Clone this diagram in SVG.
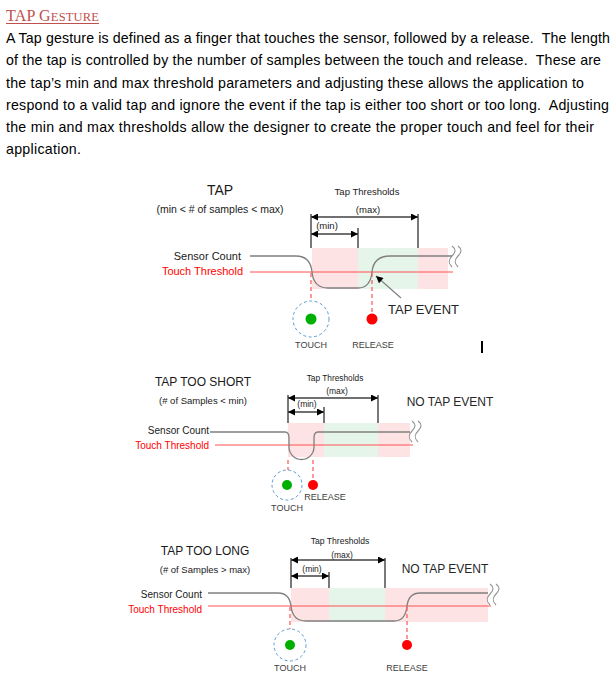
<svg xmlns="http://www.w3.org/2000/svg" width="616" height="676" viewBox="0 0 616 676">
<style>
.body{font-family:"Liberation Sans",Arial,sans-serif;font-size:14.2px;fill:#000}
.lbl{font-family:"Liberation Sans",Arial,sans-serif;fill:#1a1a1a}
.red{fill:#FF0000}
.ev{font-family:"Liberation Sans",Arial,sans-serif;fill:#262626}
.small{font-family:"Liberation Sans",Arial,sans-serif;font-size:9px;fill:#404040}
.pink{fill:#FDE3E3}
.green{fill:#E5F5EA}
.dim{stroke:#404040;stroke-width:1.4;fill:none}
.dimA{stroke:#404040;stroke-width:1.4;fill:none;marker-start:url(#ah);marker-end:url(#ah)}
.sens{stroke:#808080;stroke-width:1.3;fill:none}
.thr{stroke:#FF5050;stroke-width:1}
.dash{stroke:#FF6060;stroke-width:1.3;stroke-dasharray:4 3}
.ring{fill:none;stroke:#5B9BD5;stroke-width:1;stroke-dasharray:3 2.5}
.wig{stroke:#909090;stroke-width:1.1;fill:none}
</style>
<defs>
<marker id="ah" viewBox="0 0 10 10" refX="10" refY="5" markerUnits="userSpaceOnUse" markerWidth="9" markerHeight="7" orient="auto-start-reverse">
<path d="M0,0 L10,5 L0,10 z" fill="#000"/>
</marker>
</defs>
<rect width="616" height="676" fill="#fff"/>
<g id="header">
<text x="6" y="21" font-family="'Liberation Serif',serif" fill="#C0504D" textLength="93"><tspan font-size="16">TAP G</tspan><tspan font-size="12.5">ESTURE</tspan></text>
<line x1="6" y1="23.5" x2="99" y2="23.5" stroke="#C0504D" stroke-width="1"/>
<text class="body" x="6" y="43" textLength="604" xml:space="preserve">A Tap gesture is defined as a finger that touches the sensor, followed by a release.  The length</text>
<text class="body" x="6" y="65" textLength="595" xml:space="preserve">of the tap is controlled by the number of samples between the touch and release.  These are</text>
<text class="body" x="6" y="88" textLength="578">the tap’s min and max threshold parameters and adjusting these allows the application to</text>
<text class="body" x="6" y="110" textLength="603" xml:space="preserve">respond to a valid tap and ignore the event if the tap is either too short or too long.  Adjusting</text>
<text class="body" x="6" y="132" textLength="588">the min and max thresholds allow the designer to create the proper touch and feel for their</text>
<text class="body" x="6" y="154" textLength="75">application.</text>
</g>

<!-- Diagram 1: TAP -->
<g id="tap-regions">
<rect class="pink" x="312" y="248" width="46" height="41"/>
<rect class="green" x="358" y="248" width="60" height="41"/>
<rect class="pink" x="418" y="248" width="30" height="41"/>
</g>
<g id="tap-labels">
<text class="lbl" x="220" y="195" font-size="14" text-anchor="middle">TAP</text>
<text class="lbl" x="220" y="213" font-size="10.5" text-anchor="middle">(min &lt; # of samples &lt; max)</text>
<text class="lbl" x="367" y="195" font-size="9.5" text-anchor="middle">Tap Thresholds</text>
<text class="lbl" x="368" y="213" font-size="9.5" text-anchor="middle">(max)</text>
<text class="lbl" x="327" y="229" font-size="9.5" text-anchor="middle">(min)</text>
<text class="lbl" x="241" y="260" font-size="11" text-anchor="end">Sensor Count</text>
<text class="lbl red" x="243" y="275" font-size="11" text-anchor="end">Touch Threshold</text>
<text class="ev" x="388" y="314" font-size="13">TAP EVENT</text>
<text class="small" x="311" y="348" text-anchor="middle">TOUCH</text>
<text class="small" x="373" y="348" text-anchor="middle">RELEASE</text>
</g>
<g id="tap-touch">
<circle class="ring" cx="311" cy="319" r="18"/>
<circle cx="311" cy="319" r="5.5" fill="#00B000"/>
</g>
<g id="tap-release">
<circle cx="372" cy="319" r="5.5" fill="#FF0000"/>
</g>
<g id="tap-connectors">
<line class="dim" x1="311" y1="214" x2="311" y2="248"/>
<line class="dim" x1="418" y1="214" x2="418" y2="248"/>
<line class="dim" x1="358" y1="228" x2="358" y2="248"/>
<line class="dimA" x1="311" y1="217" x2="418" y2="217"/>
<line class="dimA" x1="311" y1="234" x2="358" y2="234"/>
<line class="thr" x1="250" y1="272" x2="453" y2="272"/>
<path class="sens" d="M250,256 H296 C306,256 311,262 312,272 C313,282 318,288 328,288 H358 C367,288 371,282 372,272 C373,262 378,256 390,256 H452"/>
<path class="wig" d="M452,246 c4,3 4,6 0,10 s-4,7 0,11 M458,246 c4,3 4,6 0,10 s-4,7 0,11"/>
<line class="dash" x1="311" y1="273" x2="311" y2="301"/>
<line class="dash" x1="372" y1="273" x2="372" y2="313"/>
<line x1="401" y1="298" x2="376" y2="276" stroke="#808080" stroke-width="1.2" marker-end="url(#ah)"/>
</g>
<rect id="cursor" x="481" y="341" width="2" height="12" fill="#000"/>

<!-- Diagram 2: TAP TOO SHORT -->
<g id="short-regions">
<rect class="pink" x="288" y="423" width="36" height="34"/>
<rect class="green" x="324" y="423" width="54" height="34"/>
<rect class="pink" x="378" y="423" width="32" height="34"/>
</g>
<g id="short-labels">
<text class="lbl" x="203" y="386" font-size="12" text-anchor="middle">TAP TOO SHORT</text>
<text class="lbl" x="203" y="404" font-size="9.5" text-anchor="middle">(# of Samples &lt; min)</text>
<text class="lbl" x="335" y="381" font-size="8.3" text-anchor="middle">Tap Thresholds</text>
<text class="lbl" x="337" y="394" font-size="8.5" text-anchor="middle">(max)</text>
<text class="lbl" x="307" y="407" font-size="8.5" text-anchor="middle">(min)</text>
<text class="lbl" x="209" y="434" font-size="10" text-anchor="end">Sensor Count</text>
<text class="lbl red" x="209" y="449" font-size="10" text-anchor="end">Touch Threshold</text>
<text class="ev" x="450" y="406" font-size="12" text-anchor="middle">NO TAP EVENT</text>
<text class="small" x="287" y="511" font-size="8.5" text-anchor="middle">TOUCH</text>
<text class="small" x="325" y="500" font-size="8.5" text-anchor="middle">RELEASE</text>
</g>
<g id="short-touch">
<circle class="ring" cx="287" cy="485" r="15"/>
<circle cx="287" cy="485" r="5" fill="#00B000"/>
</g>
<g id="short-release">
<circle cx="313" cy="485" r="5" fill="#FF0000"/>
</g>
<g id="short-connectors">
<line class="dim" x1="288" y1="395" x2="288" y2="423"/>
<line class="dim" x1="378" y1="395" x2="378" y2="423"/>
<line class="dim" x1="324" y1="407" x2="324" y2="423"/>
<line class="dimA" x1="288" y1="398" x2="378" y2="398"/>
<line class="dimA" x1="288" y1="412" x2="324" y2="412"/>
<line class="thr" x1="215" y1="445" x2="413" y2="445"/>
<path class="sens" d="M210,432 H285 C288,432 289,434 289,438 V447 A12.5,12.5 0 0 0 314,447 V438 C314,434 315,432 318,432 H410"/>
<path class="wig" d="M412,421 c4,3 4,6 0,10 s-4,7 0,11 M418,421 c4,3 4,6 0,10 s-4,7 0,11"/>
<line class="dash" x1="288" y1="460" x2="288" y2="470"/>
<line class="dash" x1="313" y1="460" x2="313" y2="480"/>
</g>

<!-- Diagram 3: TAP TOO LONG -->
<g id="long-regions">
<rect class="pink" x="291" y="588" width="38" height="34"/>
<rect class="green" x="329" y="588" width="56" height="34"/>
<rect class="pink" x="385" y="588" width="103" height="34"/>
</g>
<g id="long-labels">
<text class="lbl" x="205" y="555" font-size="12" text-anchor="middle">TAP TOO LONG</text>
<text class="lbl" x="205" y="573" font-size="9.5" text-anchor="middle">(# of Samples &gt; max)</text>
<text class="lbl" x="340" y="544" font-size="8.6" text-anchor="middle">Tap Thresholds</text>
<text class="lbl" x="342" y="558" font-size="8.5" text-anchor="middle">(max)</text>
<text class="lbl" x="312" y="572" font-size="8.5" text-anchor="middle">(min)</text>
<text class="lbl" x="202" y="598" font-size="10" text-anchor="end">Sensor Count</text>
<text class="lbl red" x="202" y="613" font-size="10" text-anchor="end">Touch Threshold</text>
<text class="ev" x="445" y="573" font-size="12" text-anchor="middle">NO TAP EVENT</text>
<text class="small" x="290" y="671" font-size="8.5" text-anchor="middle">TOUCH</text>
<text class="small" x="407" y="671" font-size="8.5" text-anchor="middle">RELEASE</text>
</g>
<g id="long-touch">
<circle class="ring" cx="290" cy="645" r="16"/>
<circle cx="290" cy="645" r="5" fill="#00B000"/>
</g>
<g id="long-release">
<circle cx="407" cy="645" r="5" fill="#FF0000"/>
</g>
<g id="long-connectors">
<line class="dim" x1="291" y1="558" x2="291" y2="588"/>
<line class="dim" x1="385" y1="558" x2="385" y2="588"/>
<line class="dim" x1="329" y1="572" x2="329" y2="588"/>
<line class="dimA" x1="291" y1="560" x2="385" y2="560"/>
<line class="dimA" x1="291" y1="576" x2="329" y2="576"/>
<line class="thr" x1="208" y1="606" x2="491" y2="606"/>
<path class="sens" d="M208,593 H278 C286,593 290,598 291,606 C292,616 297,621 306,621 H394 C402,621 406,616 407,606 C408,598 412,593 420,593 H488"/>
<path class="wig" d="M490,584 c4,3 4,6 0,10 s-4,7 0,11 M496,584 c4,3 4,6 0,10 s-4,7 0,11"/>
<line class="dash" x1="290" y1="607" x2="290" y2="629"/>
<line class="dash" x1="407" y1="607" x2="407" y2="640"/>
</g>
</svg>
